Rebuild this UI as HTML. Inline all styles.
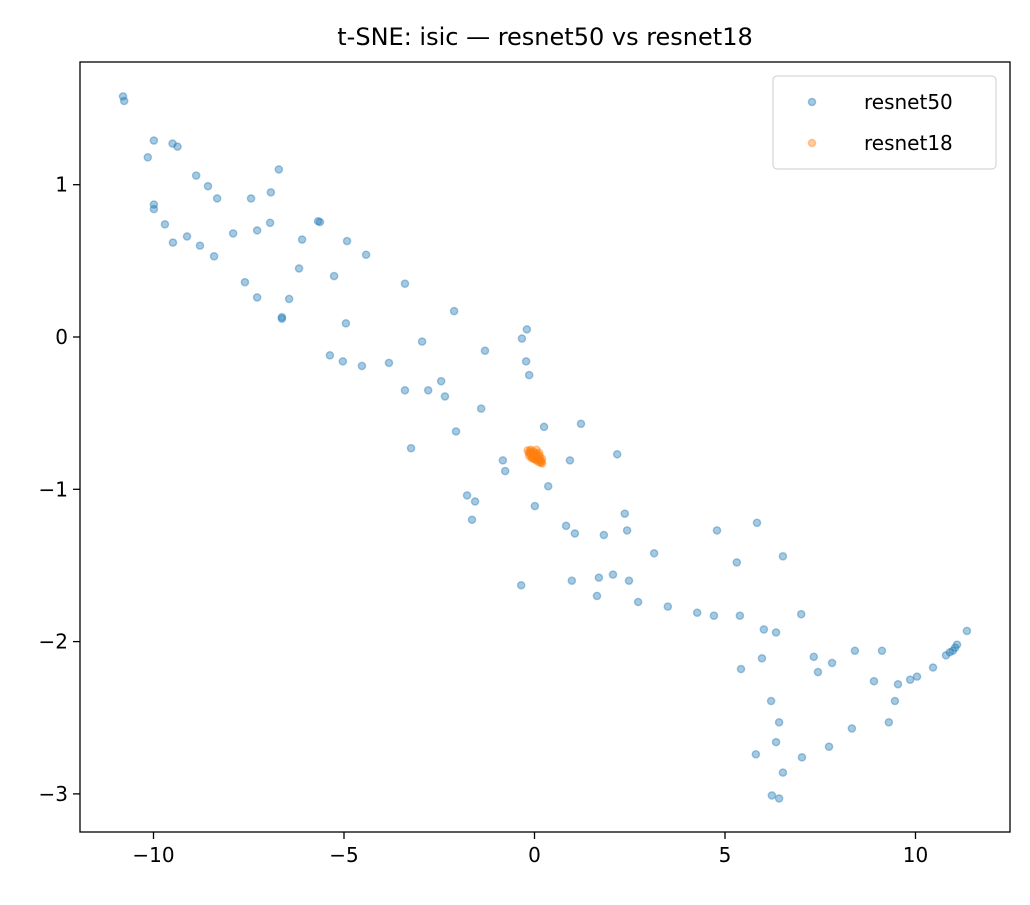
<!DOCTYPE html>
<html><head><meta charset="utf-8"><style>
body{margin:0;background:#fff;font-family:"Liberation Sans","DejaVu Sans",sans-serif}
</style></head><body>
<svg id="chart" width="1030" height="900" xmlns="http://www.w3.org/2000/svg">
<rect width="1030" height="900" fill="#fff"/>
<text x="545" y="45" font-size="24" text-anchor="middle" font-family="DejaVu Sans, sans-serif">t-SNE: isic — resnet50 vs resnet18</text>
<g id="marks"></g>
<g id="axes"></g>
<g>
<rect x="773" y="76" width="223" height="93" rx="4" fill="#fff" fill-opacity="0.8" stroke="#ccc"/>
<circle cx="812" cy="102" r="3.6" fill="#1f77b4" fill-opacity="0.4" stroke="#1f77b4" stroke-opacity="0.4" stroke-width="1.4"/>
<text x="864" y="109" font-size="20" font-family="DejaVu Sans, sans-serif">resnet50</text>
<circle cx="812" cy="143" r="3.6" fill="#ff7f0e" fill-opacity="0.4" stroke="#ff7f0e" stroke-opacity="0.4" stroke-width="1.4"/>
<text x="864" y="150" font-size="20" font-family="DejaVu Sans, sans-serif">resnet18</text>
</g>
</svg>
<script>
const r50x=[-10.8,-10.77,-9.99,-10.15,-9.5,-9.37,-9.99,-9.99,-9.7,-9.49,-9.12,-8.78,-8.41,-8.88,-8.57,-8.33,-7.91,-7.44,-6.71,-6.92,-6.94,-7.28,-7.6,-7.28,-6.63,-6.63,-6.44,-6.18,-6.1,-5.68,-5.63,-4.92,-4.42,-5.26,-4.95,-5.37,-5.03,-4.53,-3.82,-3.4,-3.4,-2.95,-2.79,-2.45,-2.35,-3.24,-2.11,-2.06,-1.3,-1.4,-0.33,-0.2,-0.22,-0.14,0.25,1.22,2.17,0.93,-0.83,-0.77,0.36,0.01,-1.77,-1.56,-1.64,-0.35,0.83,1.06,1.82,2.37,2.43,0.98,1.69,2.06,1.64,2.48,2.72,3.5,3.14,4.27,4.71,4.79,5.31,5.39,5.84,6.52,6.02,6.34,5.97,5.42,7.0,7.33,7.44,7.81,8.41,9.12,8.91,9.54,9.86,10.04,10.46,10.8,10.9,10.98,11.04,11.09,11.35,6.21,9.46,6.42,9.3,8.33,6.34,5.81,7.02,7.73,6.52,6.23,6.42];
const r50y=[1.58,1.55,1.29,1.18,1.27,1.25,0.87,0.84,0.74,0.62,0.66,0.6,0.53,1.06,0.99,0.91,0.68,0.91,1.1,0.95,0.75,0.7,0.36,0.26,0.13,0.12,0.25,0.45,0.64,0.76,0.755,0.63,0.54,0.4,0.09,-0.12,-0.16,-0.19,-0.17,0.35,-0.35,-0.03,-0.35,-0.29,-0.39,-0.73,0.17,-0.62,-0.09,-0.47,-0.01,0.05,-0.16,-0.25,-0.59,-0.57,-0.77,-0.81,-0.81,-0.88,-0.98,-1.11,-1.04,-1.08,-1.2,-1.63,-1.24,-1.29,-1.3,-1.16,-1.27,-1.6,-1.58,-1.56,-1.7,-1.6,-1.74,-1.77,-1.42,-1.81,-1.83,-1.27,-1.48,-1.83,-1.22,-1.44,-1.92,-1.94,-2.11,-2.18,-1.82,-2.1,-2.2,-2.14,-2.06,-2.06,-2.26,-2.28,-2.25,-2.23,-2.17,-2.09,-2.07,-2.06,-2.04,-2.02,-1.93,-2.39,-2.39,-2.53,-2.53,-2.57,-2.66,-2.74,-2.76,-2.69,-2.86,-3.01,-3.03];
const r18x=[-0.18,-0.15,-0.12,-0.1,-0.06,-0.03,0.0,0.03,0.06,0.09,0.12,0.15,0.18,0.2,-0.14,-0.08,-0.02,0.04,0.1,0.16,-0.1,-0.04,0.02,0.08,0.14,0.2,0.05,0.12,-0.06,0.0,0.07,0.11,-0.12,0.17];
const r18y=[-0.745,-0.76,-0.75,-0.77,-0.76,-0.78,-0.77,-0.79,-0.78,-0.8,-0.79,-0.81,-0.82,-0.83,-0.78,-0.795,-0.8,-0.81,-0.82,-0.825,-0.74,-0.75,-0.76,-0.77,-0.78,-0.8,-0.74,-0.76,-0.79,-0.8,-0.805,-0.8,-0.765,-0.81];
const xTicks=[-10,-5,0,5,10];
const yTicks=[1,0,-1,-2,-3];
const xTickLabels=["\u221210","\u22125","0","5","10"];
const yTickLabels=["1","0","\u22121","\u22122","\u22123"];
const L=80,R=1010,T=62,B=832;
const sx=v=>534.5+v*38.1;
const sy=v=>337-v*152.3;
const NS="http://www.w3.org/2000/svg";
const marks=document.getElementById('marks');
function dot(x,y,c,n){const e=document.createElementNS(NS,'circle');
e.setAttribute('cx',sx(x));e.setAttribute('cy',sy(y));e.setAttribute('r',3.6);
e.setAttribute('fill',c);e.setAttribute('fill-opacity',0.4);e.setAttribute('stroke',c);e.setAttribute('stroke-opacity',0.4);e.setAttribute('stroke-width',1.4);


marks.appendChild(e);}
r50x.forEach((x,i)=>dot(x,r50y[i],'#1f77b4','resnet50-point'));
r18x.forEach((x,i)=>dot(x,r18y[i],'#ff7f0e','resnet18-point'));
const ax=document.getElementById('axes');
let h=`<rect x="${L}" y="${T}" width="${R-L}" height="${B-T}" fill="none" stroke="#000" stroke-width="1.3"/>`;
xTicks.forEach((t,i)=>{const x=sx(t);h+=`<line x1="${x}" y1="${B}" x2="${x}" y2="${B+7}" stroke="#000" stroke-width="1.3"/><text x="${x}" y="${B+30}" font-size="20" text-anchor="middle" font-family="DejaVu Sans, sans-serif">${xTickLabels[i]}</text>`;});
yTicks.forEach((t,i)=>{const y=sy(t);h+=`<line x1="${L-7}" y1="${y}" x2="${L}" y2="${y}" stroke="#000" stroke-width="1.3"/><text x="${L-12}" y="${y+7}" font-size="20" text-anchor="end" font-family="DejaVu Sans, sans-serif">${yTickLabels[i]}</text>`;});
ax.innerHTML=h;
</script>
</body></html>
